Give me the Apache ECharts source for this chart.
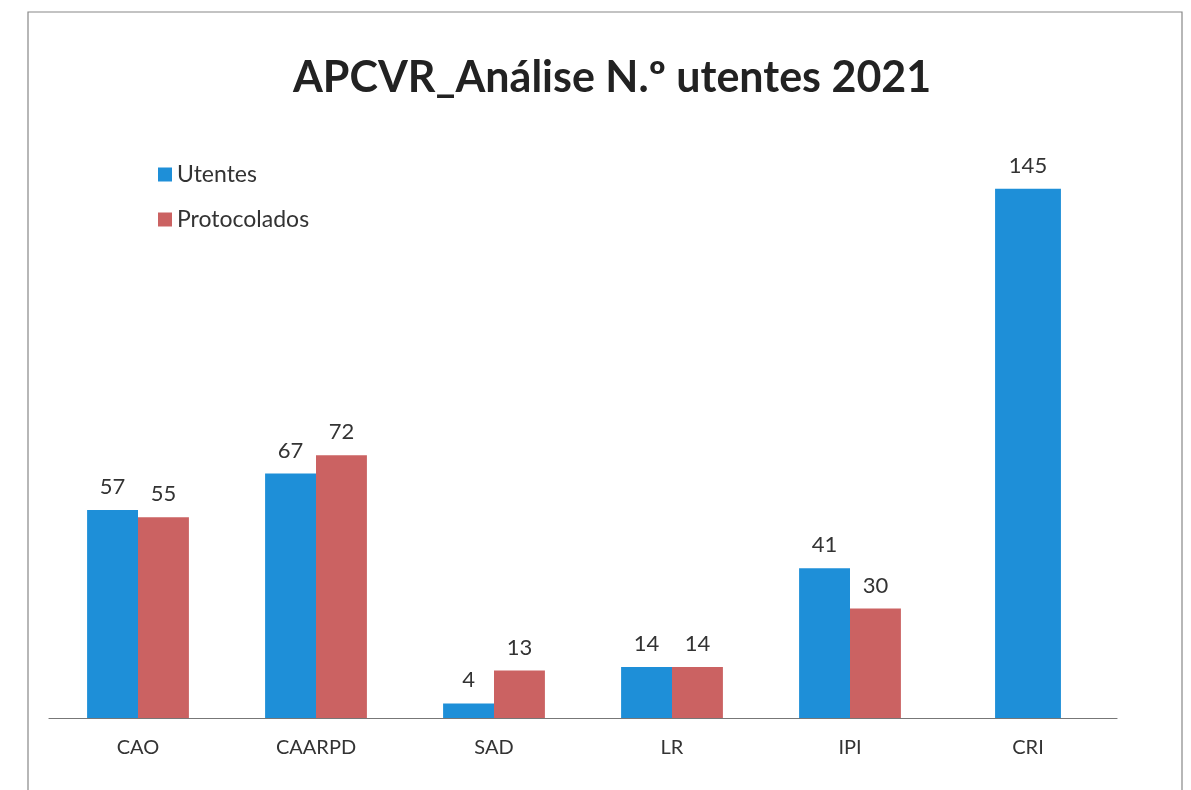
<!DOCTYPE html>
<html>
<head>
<meta charset="utf-8">
<script src="https://cdn.jsdelivr.net/npm/echarts@6/dist/echarts.min.js"></script>
<style>
  html, body { margin: 0; padding: 0; background: #fff; }
  #main { width: 1191px; height: 790px; }
</style>
</head>
<body>
<div id="main"></div>
<script>
// dados do gráfico
var categorias = ['CAO', 'CAARPD', 'SAD', 'LR', 'IPI', 'CRI'];
var utentes = [57, 67, 4, 14, 41, 145];
var protocolados = [55, 72, 13, 14, 30, null];

var azul = '#1e8fd8';
var vermelho = '#cb6262';

// CRI so tem utentes: a barra fica centrada num eixo a parte
var utentesPar = utentes.map(function (v, i) { return protocolados[i] == null ? null : v; });
var utentesSo = utentes.map(function (v, i) { return protocolados[i] == null ? v : null; });

var myChart = echarts.init(document.getElementById('main'));

var etiqueta = {
    show: true,
    position: 'top',
    distance: 12,
    fontSize: 22,
    color: '#333',
    fontFamily: 'Lato'
};

var option = {
    backgroundColor: '#fff',
    animation: false,
    textStyle: { fontFamily: 'Lato' },
    graphic: [{
        type: 'rect',
        shape: { x: 28, y: 12, width: 1154, height: 800 },
        style: { fill: 'none', stroke: '#888', lineWidth: 1.2 },
        silent: true
    }],
    title: {
        text: 'APCVR_Análise N.º utentes 2021',
        left: 288,
        top: 52,
        textStyle: { fontSize: 43, fontWeight: 'bold', color: '#222', fontFamily: 'Lato' }
    },
    legend: {
        orient: 'vertical',
        left: 153,
        top: 158,
        itemWidth: 14,
        itemHeight: 14,
        itemGap: 22,
        icon: 'rect',
        data: ['Utentes', 'Protocolados'],
        textStyle: { fontSize: 23, color: '#333', fontFamily: 'Lato' }
    },
    grid: { left: 49, right: 74, top: 134, bottom: 72 },
    xAxis: [{
        type: 'category',
        data: categorias,
        axisTick: { show: false },
        axisLine: { lineStyle: { color: '#777', width: 1.2 } },
        axisLabel: { fontSize: 20, color: '#333', margin: 20, fontFamily: 'Lato' }
    }, {
        type: 'category',
        data: categorias,
        show: false
    }],
    yAxis: {
        type: 'value',
        min: 0,
        max: 160,
        show: false,
        splitLine: { show: false }
    },
    series: [{
        name: 'Utentes',
        type: 'bar',
        data: utentesPar,
        barWidth: '28.6%',
        barGap: '0%',
        itemStyle: { color: azul },
        label: etiqueta
    }, {
        name: 'Protocolados',
        type: 'bar',
        data: protocolados,
        barWidth: '28.6%',
        barGap: '0%',
        itemStyle: { color: vermelho },
        label: etiqueta
    }, {
        name: 'Utentes',
        type: 'bar',
        xAxisIndex: 1,
        data: utentesSo,
        barWidth: '37%',
        itemStyle: { color: azul },
        label: etiqueta
    }]
};

myChart.setOption(option);
</script>
</body>
</html>
